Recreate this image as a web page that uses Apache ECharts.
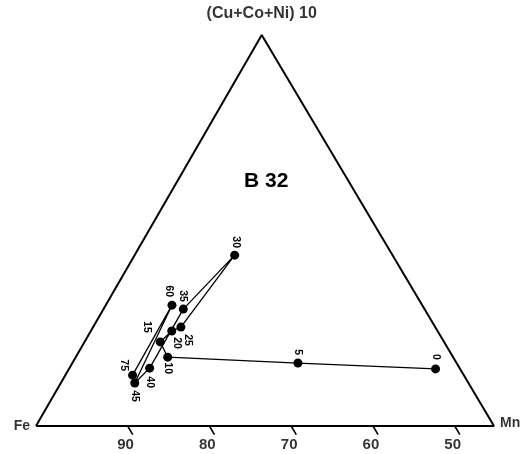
<!DOCTYPE html>
<html>
<head>
<meta charset="utf-8">
<style>html,body{margin:0;padding:0;background:#fff;}#c{width:529px;height:454px;}</style>
<script src="https://cdn.jsdelivr.net/npm/echarts@6/dist/echarts.min.js"></script>
</head>
<body>
<div id="c"></div>
<script>
// Readings: Fe scale (read along lines parallel to the Mn–apex side) and height toward (Cu+Co+Ni)10 apex (% of triangle height)
const sampleLabels = ['0', '5', '10', '15', '20', '25', '30', '35', '40', '45', '60', '75'];
const feScale      = [48.2, 64.6, 80.1, 79.9, 77.7, 76.3, 64.5, 74.7, 83.1, 86.0, 75.8, 85.7];
const apexScale    = [14.6, 16.1, 17.6, 21.5, 24.3, 25.3, 43.7, 29.9, 14.8, 11.0, 30.9, 13.0];
const tickValues   = [90, 80, 70, 60, 50];
const cornerNames  = ['Fe', 'Mn', '(Cu+Co+Ni) 10'];
const cornerFe     = [101.2, 45.2, 45.2];
const cornerApex   = [0, 0, 100];

// label placement on screen (pixels, style only): [dx, dy]
const labelOffsets = {
  '0': [0, -12], '5': [0, -11], '10': [0, 11], '15': [-13, -15], '20': [5, 12], '25': [7, 13],
  '30': [1, -13], '35': [0, -13], '40': [0, 14], '45': [0, 13], '60': [-3, -14], '75': [-9, -10]
};
// labels are rotated -90 deg, so convert screen offset into the rotated label frame
function rotOffset(o) { return [o[1], -o[0]]; }

const APEX_PROJ = 73.6; // projection of apex on the Fe base scale
const K = (APEX_PROJ - cornerFe[1]) / 100;
function toXY(fe, t) { return [fe + K * t, t]; }

const pts = feScale.map((f, i) => toXY(f, apexScale[i]));
const tri = [0, 1, 2, 0].map(i => toXY(cornerFe[i], cornerApex[i]));

const series = [];
series.push({
  type: 'line', data: tri, showSymbol: false, clip: false, silent: true,
  lineStyle: { color: '#000', width: 2 }, z: 2
});
tickValues.forEach(v => {
  series.push({
    type: 'line', data: [toXY(v, 0), toXY(v, -2.2)], showSymbol: false, clip: false, silent: true,
    lineStyle: { color: '#000', width: 1.6 }
  });
});
series.push({
  type: 'scatter', clip: false, silent: true, symbolSize: 0,
  data: tickValues.map(v => ({ value: [v + 0.25, -4.9], name: String(v) })),
  label: { show: true, position: 'inside', formatter: '{b}', color: '#000',
    fontFamily: 'Liberation Sans', fontWeight: 'bold', fontSize: 15 }
});
series.push({
  type: 'line', clip: false, silent: true,
  data: pts.map((p, i) => ({
    value: p, name: sampleLabels[i],
    label: { show: true, position: 'inside', rotate: -90, offset: rotOffset(labelOffsets[sampleLabels[i]]),
      formatter: '{b}', color: '#000', fontFamily: 'Liberation Sans', fontWeight: 'bold', fontSize: 10.5 }
  })),
  symbol: 'circle', symbolSize: 9, showSymbol: true,
  itemStyle: { color: '#000' }, lineStyle: { color: '#000', width: 1.3 }, z: 3
});
const cornerSeries = {
  type: 'scatter', clip: false, silent: true, symbolSize: 0,
  data: cornerNames.map((n, i) => ({ value: toXY(cornerFe[i], cornerApex[i]), name: n })),
  label: { show: true, formatter: '{b}', color: '#000', fontFamily: 'Liberation Sans', fontWeight: 'bold', fontSize: 14 }
};
cornerSeries.data[0].label = { position: 'left', distance: 6 };
cornerSeries.data[1].label = { position: 'right', distance: 6, offset: [0, -3] };
cornerSeries.data[2].label = { position: 'top', distance: 13, fontSize: 16 };
series.push(cornerSeries);

const chart = echarts.init(document.getElementById('c'), null, { renderer: 'canvas' });
chart.setOption({
  animation: false,
  backgroundColor: '#fff',
  title: {
    text: 'B 32', left: 239, top: 166,
    textStyle: { color: '#000', fontFamily: 'Liberation Sans', fontWeight: 'bold', fontSize: 21 }
  },
  grid: { left: 36, right: 35, top: 35, bottom: 28 },
  xAxis: { type: 'value', inverse: true, min: 45.2, max: 101.2, show: false },
  yAxis: { type: 'value', min: 0, max: 100, show: false },
  series: series
});
</script>
</body>
</html>
